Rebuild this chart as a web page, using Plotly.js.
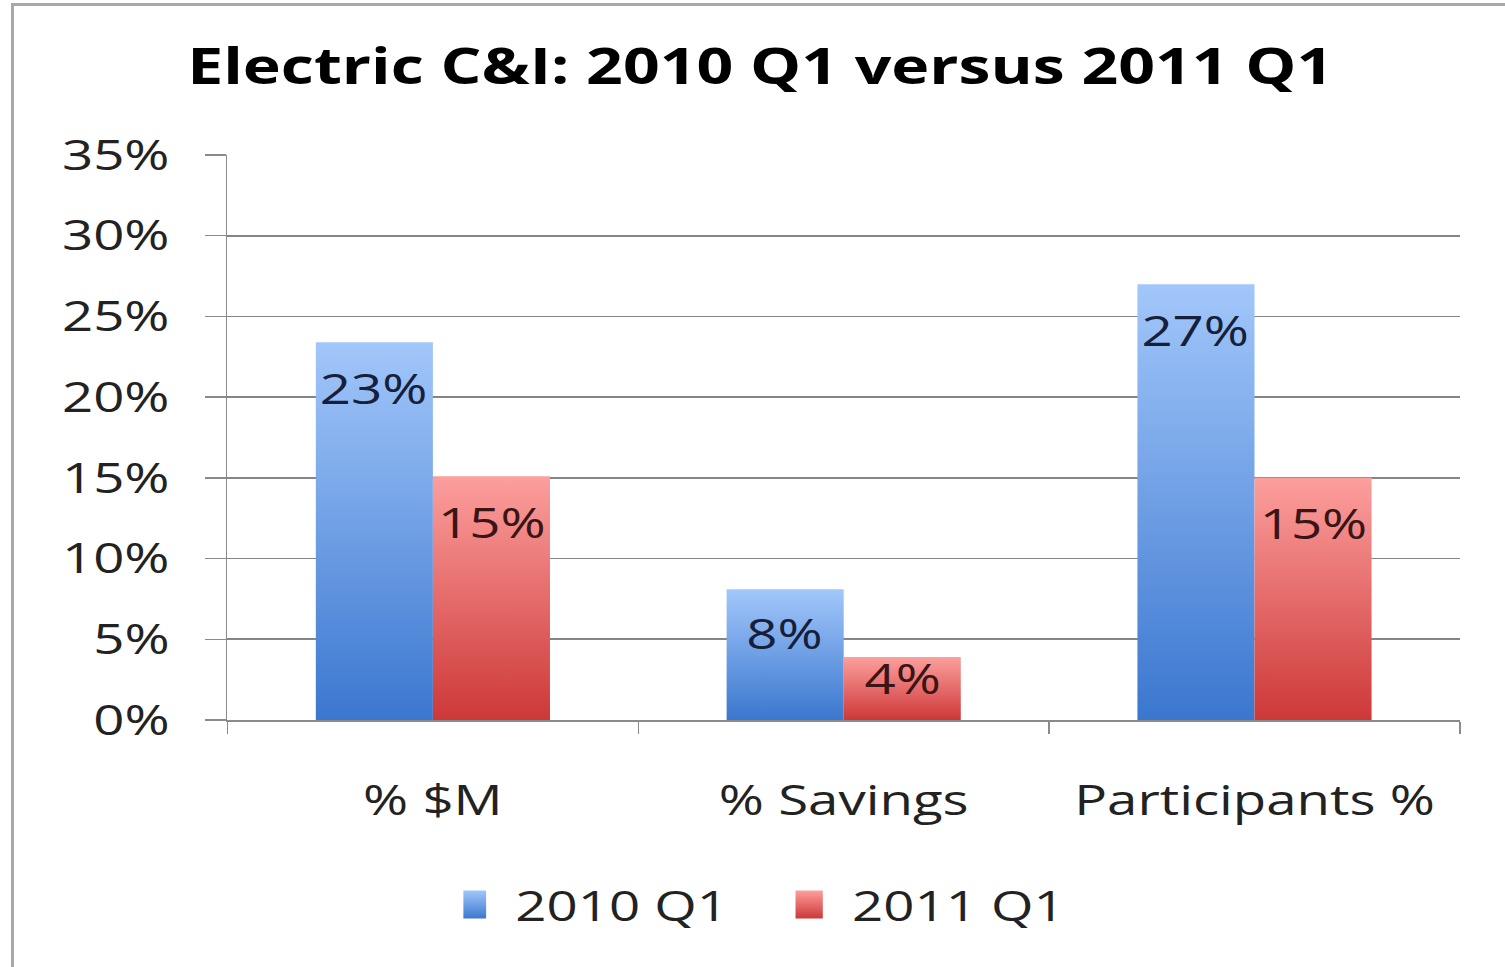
<!DOCTYPE html>
<html>
<head>
<meta charset="utf-8">
<script src="https://cdn.plot.ly/plotly-3.0.1.min.js"></script>
<style>
  html, body { margin: 0; padding: 0; background: #ffffff; overflow: hidden; }
  #wrap { position: absolute; left: 0; top: 0; width: 1158px; height: 967px;
          transform: scaleX(1.3); transform-origin: 0 0; }
  #chart { width: 1158px; height: 967px; }
  #frame { position: absolute; left: 11px; top: 3px; width: 1600px; height: 1100px;
           border-left: 3px solid #a8a8a8; border-top: 3px solid #a8a8a8;
           pointer-events: none; box-sizing: border-box; }
</style>
</head>
<body>
<div id="wrap"><div id="chart"></div></div>
<div id="frame"></div>
<script>
// ---- data ----
const categories = ['% $M', '% Savings', 'Participants %'];
const seriesNames = ['2010 Q1', '2011 Q1'];
const values2010 = [0.234, 0.081, 0.270];
const values2011 = [0.151, 0.039, 0.150];
const yTickValues = [0, 0.05, 0.10, 0.15, 0.20, 0.25, 0.30, 0.35];
const chartTitle = 'Electric C&I: 2010 Q1 versus 2011 Q1';

// ---- styling ----
const FONT = 'Open Sans, Noto Sans, sans-serif';
const BARGAP = 0.43;
const YMAX = 0.35;
const MARGIN = {l: 175, r: 35, t: 155, b: 247};
const PLOT_H = 967 - MARGIN.t - MARGIN.b;
const gradients = [
  {id: 'gBlue', top: '#a2c7fa', bottom: '#3b77cf'},
  {id: 'gRed',  top: '#fc9f9d', bottom: '#cd3838'}
];
const labelColors = ['#16203a', '#3a1515'];

const allSeries = [values2010, values2011];
const traces = allSeries.map((vals, i) => ({
  type: 'bar',
  name: seriesNames[i],
  x: categories,
  y: vals,
  marker: {color: i === 0 ? '#6b9ee6' : '#e86b6b', line: {width: 0}},
  hoverinfo: 'skip'
}));

// data labels placed near the top inside each bar
const annotations = [];
allSeries.forEach((vals, s) => {
  const off = (1 - BARGAP) / 4 * (s === 0 ? -1 : 1);
  vals.forEach((v, i) => {
    const barPx = v / YMAX * PLOT_H;
    annotations.push({
      x: i + off, y: v, xref: 'x', yref: 'y',
      text: Math.round(v * 100) + '%',
      showarrow: false, xanchor: 'center', yanchor: 'middle',
      yshift: -Math.min(45, barPx * 0.33),
      font: {family: FONT, size: 42, color: labelColors[s]}
    });
  });
});

const layout = {
  width: 1158, height: 967,
  margin: MARGIN,
  paper_bgcolor: 'rgba(0,0,0,0)',
  plot_bgcolor: 'rgba(0,0,0,0)',
  title: {
    text: chartTitle,
    x: 0.505, xanchor: 'center', y: 0.931, yanchor: 'middle',
    font: {family: FONT, size: 49.5, weight: 700, color: '#000000'}
  },
  barmode: 'group',
  bargap: BARGAP,
  bargroupgap: 0,
  xaxis: {
    type: 'category',
    showline: true, linecolor: '#8a8a8a', linewidth: 1.5,
    ticks: 'outside', tickson: 'boundaries', ticklen: 12, tickcolor: '#8a8a8a', tickwidth: 1.2,
    tickfont: {family: FONT, size: 42, color: '#222222'},
    ticklabelstandoff: 43,
    showgrid: false, zeroline: false
  },
  yaxis: {
    range: [0, YMAX],
    tickvals: yTickValues,
    tickformat: '.0%',
    showline: true, linecolor: '#8a8a8a', linewidth: 1.2,
    ticks: 'outside', ticklen: 16, tickcolor: '#8a8a8a', tickwidth: 1.5,
    showgrid: true, gridcolor: '#858585', gridwidth: 1.6,
    zeroline: false,
    tickfont: {family: FONT, size: 42, color: '#222222'},
    ticklabelstandoff: 19
  },
  showlegend: true,
  legend: {
    orientation: 'h',
    entrywidth: 214,
    x: 0.4646, xanchor: 'center',
    y: -0.327, yanchor: 'middle',
    font: {family: FONT, size: 42, color: '#222222'},
    bgcolor: 'rgba(0,0,0,0)',
    traceorder: 'normal'
  },
  annotations: annotations
};

Plotly.newPlot('chart', traces, layout, {displayModeBar: false, staticPlot: true}).then(gd => {
  const NS = 'http://www.w3.org/2000/svg';
  const svg = gd.querySelector('.main-svg');
  let defs = svg.querySelector('defs');
  if (!defs) { defs = document.createElementNS(NS, 'defs'); svg.insertBefore(defs, svg.firstChild); }
  gradients.forEach(g => {
    const lg = document.createElementNS(NS, 'linearGradient');
    lg.setAttribute('id', g.id);
    lg.setAttribute('x1', '0'); lg.setAttribute('y1', '0');
    lg.setAttribute('x2', '0'); lg.setAttribute('y2', '1');
    [[0, g.top], [1, g.bottom]].forEach(([o, c]) => {
      const st = document.createElementNS(NS, 'stop');
      st.setAttribute('offset', o);
      st.setAttribute('stop-color', c);
      lg.appendChild(st);
    });
    defs.appendChild(lg);
  });
  gd.querySelectorAll('.barlayer .trace').forEach((tr, i) => {
    tr.querySelectorAll('path').forEach(p => { p.style.fill = 'url(#' + gradients[i].id + ')'; });
  });
  gd.querySelectorAll('.legend .traces').forEach((tr, i) => {
    tr.querySelectorAll('.legendpoints path').forEach(p => {
      p.setAttribute('d', 'M-2.5,14H-23.5V-14H-2.5Z');
      p.style.fill = 'url(#' + gradients[i].id + ')';
      p.style.stroke = 'none';
    });
  });
});
</script>
</body>
</html>
